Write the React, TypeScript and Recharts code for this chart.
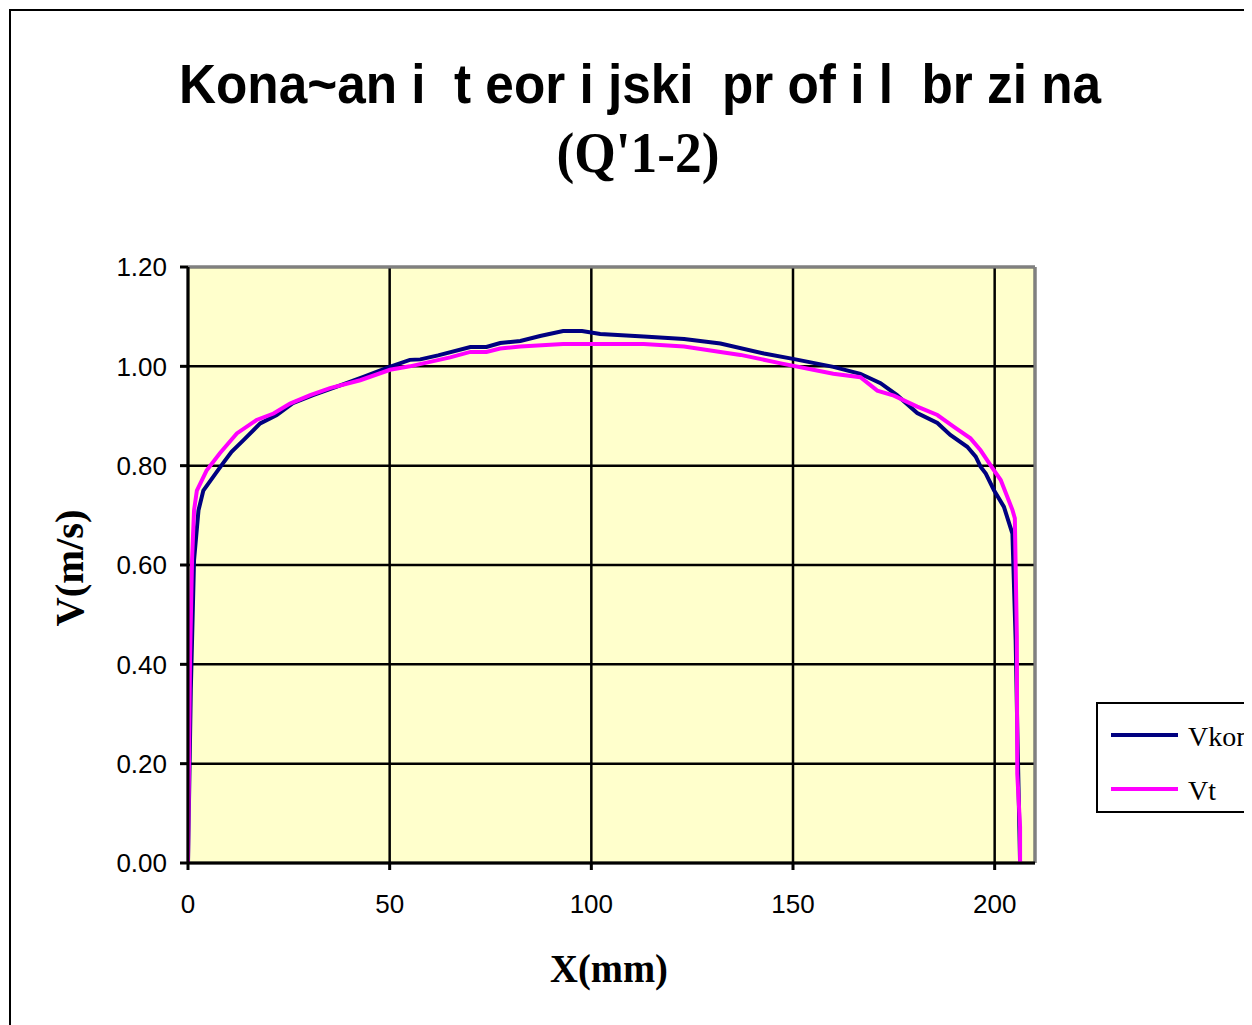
import React from "react";
import { CartesianGrid, Line, LineChart, ReferenceLine, XAxis, YAxis } from "recharts";

// measured profile (Vkon) and theoretical profile (Vt), X in mm, V in m/s
const vkonX = [0, 0.7, 1.5, 2.6, 3.8, 6.2, 8.7, 10.8, 13.7, 17.9, 22, 26, 31, 36.9, 43.5, 50, 55, 57.6, 62, 70, 74, 77.4, 82.4, 87.3, 93, 97.7, 102.2, 113, 123, 132, 142.8, 150, 160, 166.7, 171.7, 175.8, 180.8, 185.8, 189, 193.2, 195.3, 196.5, 197.8, 199.8, 202.3, 204.4, 205.2, 205.6, 206.3];
const vkonY = [0, 0.35, 0.61, 0.71, 0.75, 0.777, 0.805, 0.828, 0.851, 0.885, 0.902, 0.926, 0.942, 0.959, 0.979, 0.999, 1.013, 1.014, 1.022, 1.039, 1.039, 1.047, 1.051, 1.061, 1.071, 1.071, 1.065, 1.06, 1.055, 1.046, 1.026, 1.015, 0.999, 0.985, 0.966, 0.942, 0.906, 0.886, 0.862, 0.838, 0.818, 0.798, 0.784, 0.751, 0.717, 0.663, 0.45, 0.274, 0];

const vtX = [0, 0.5, 1.0, 1.5, 2.2, 4.6, 7.9, 12.1, 17, 21.2, 25.3, 30.3, 35.2, 42.7, 50.1, 55, 60, 65, 70, 74, 77.4, 82.4, 93, 113, 123, 132, 137, 147, 155, 160, 166.7, 170.9, 175, 180.8, 185.8, 189.9, 194, 196.5, 199.8, 201.5, 204.4, 205, 205.5, 205.6, 206.3, 206.3];
const vtY = [0, 0.41, 0.61, 0.71, 0.75, 0.79, 0.825, 0.865, 0.892, 0.905, 0.925, 0.942, 0.956, 0.972, 0.993, 1.0, 1.009, 1.018, 1.029, 1.029, 1.036, 1.04, 1.045, 1.045, 1.04, 1.029, 1.023, 1.006, 0.993, 0.985, 0.978, 0.951, 0.941, 0.919, 0.902, 0.878, 0.855, 0.831, 0.791, 0.771, 0.711, 0.694, 0.456, 0.18, 0.073, 0];

const xTicks = [0, 50, 100, 150, 200];
const yTicks = [0, 0.2, 0.4, 0.6, 0.8, 1.0, 1.2];

const titleLine1 = "Kona~an i  t eor i jski  pr of i l  br zi na";
const titleLine2 = "(Q'1-2)";
const xTitle = "X(mm)";
const yTitle = "V(m/s)";
const seriesNames = ["Vkon", "Vt"];

const NAVY = "#000080";
const MAGENTA = "#FF00FF";
const SANS = "'Liberation Sans', Arial, sans-serif";
const SERIF = "'Liberation Serif', 'Times New Roman', serif";

const vkon = vkonX.map((x, i) => ({ x, y: vkonY[i] }));
const vt = vtX.map((x, i) => ({ x, y: vtY[i] }));

const tickStyle = { fill: "#000", fontSize: 26, fontFamily: SANS };

export default function App() {
  return (
    <div style={{ position: "relative", width: 1244, height: 1017, overflow: "hidden", background: "#fff" }}>
      <div
        style={{
          position: "absolute",
          left: 1,
          top: 1,
          width: 1400,
          height: 1100,
          border: "2px solid #000",
        }}
      />
      <div style={{ position: "absolute", left: 0, top: 0 }}>
        <LineChart width={1100} height={1000} margin={{ top: 259, right: 73, bottom: 85, left: 100 }}>
          <CartesianGrid fill="#FFFFCC" stroke="#000" strokeWidth={2.5} />
          <XAxis
            dataKey="x"
            type="number"
            domain={[0, 210]}
            ticks={xTicks}
            allowDataOverflow
            height={60}
            tickSize={7}
            tickMargin={25}
            tick={tickStyle}
            axisLine={{ stroke: "#000", strokeWidth: 3 }}
            tickLine={{ stroke: "#000", strokeWidth: 3 }}
          />
          <YAxis
            dataKey="y"
            type="number"
            domain={[0, 1.2]}
            ticks={yTicks}
            width={80}
            tickSize={8}
            tickMargin={13}
            tick={tickStyle}
            tickFormatter={(v: number) => v.toFixed(2)}
            axisLine={{ stroke: "#000", strokeWidth: 3 }}
            tickLine={{ stroke: "#000", strokeWidth: 3 }}
          />
          <ReferenceLine y={1.2} stroke="#808080" strokeWidth={3} />
          <ReferenceLine x={210} stroke="#808080" strokeWidth={3} />
          <Line
            data={vkon}
            dataKey="y"
            name={seriesNames[0]}
            type="linear"
            stroke={NAVY}
            strokeWidth={4}
            dot={false}
            isAnimationActive={false}
          />
          <Line
            data={vt}
            dataKey="y"
            name={seriesNames[1]}
            type="linear"
            stroke={MAGENTA}
            strokeWidth={4}
            dot={false}
            isAnimationActive={false}
          />
        </LineChart>
      </div>
      <svg width={1244} height={1017} style={{ position: "absolute", left: 0, top: 0, pointerEvents: "none" }}>
        <text
          x={632}
          y={95}
          textAnchor="middle"
          fontFamily={SANS}
          fontWeight="bold"
          fontSize={56}
          textLength={922}
          lengthAdjust="spacingAndGlyphs"
          style={{ whiteSpace: "pre" }}
        >
          {titleLine1}
        </text>
        <text x={630} y={164} textAnchor="middle" fontFamily={SERIF} fontWeight="bold" fontSize={56} textLength={163} lengthAdjust="spacingAndGlyphs">
          {titleLine2}
        </text>
        <text x={601} y={974} textAnchor="middle" fontFamily={SERIF} fontWeight="bold" fontSize={39} textLength={118} lengthAdjust="spacingAndGlyphs">
          {xTitle}
        </text>
        <text
          x={75}
          y={560}
          textAnchor="middle"
          fontFamily={SERIF}
          fontWeight="bold"
          fontSize={41}
          textLength={117}
          lengthAdjust="spacingAndGlyphs"
          transform="rotate(-90 75 560)"
        >
          {yTitle}
        </text>
        <rect x={1089} y={695} width={240} height={109} fill="#fff" stroke="#000" strokeWidth={2} />
        <line x1={1103} x2={1170} y1={727} y2={727} stroke={NAVY} strokeWidth={4} />
        <line x1={1103} x2={1170} y1={781} y2={781} stroke={MAGENTA} strokeWidth={4} />
        <text x={1180} y={738} fontFamily={SERIF} fontSize={28}>
          {seriesNames[0]}
        </text>
        <text x={1180} y={792} fontFamily={SERIF} fontSize={28}>
          {seriesNames[1]}
        </text>
      </svg>
    </div>
  );
}
